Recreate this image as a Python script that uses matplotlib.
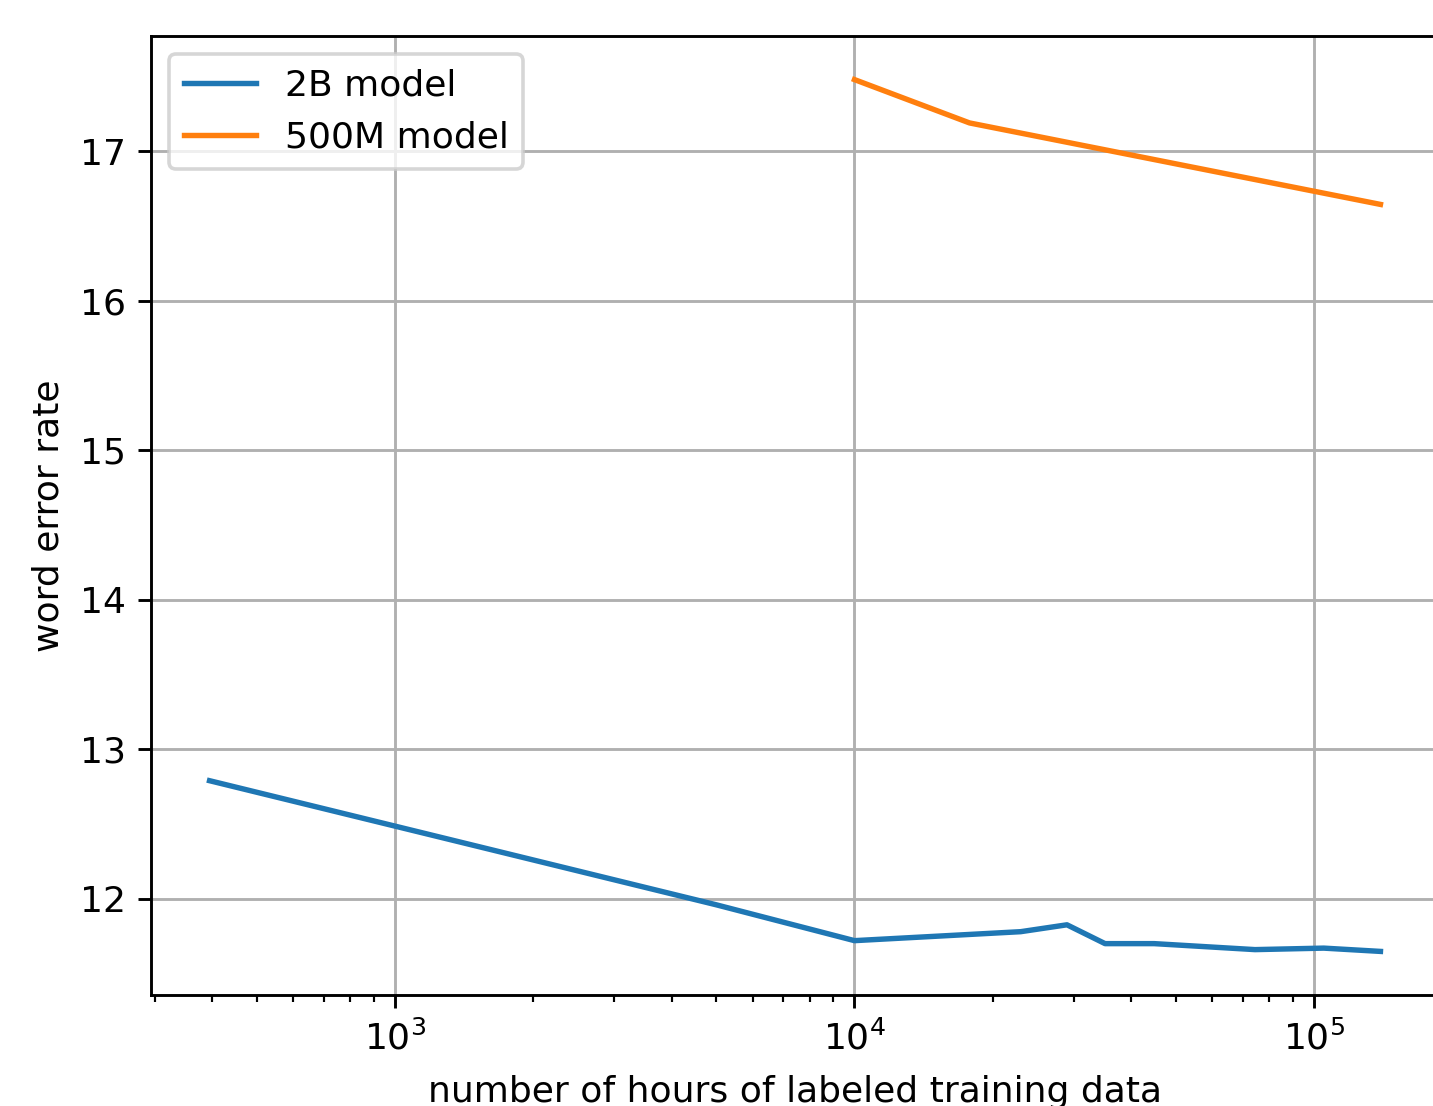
import matplotlib
matplotlib.use("Agg")
import matplotlib.pyplot as plt

hours_2b = [395, 5000, 10000, 23000, 29000, 35100, 44900, 74400, 105000, 139500]
wer_2b = [12.79, 11.96, 11.72, 11.78, 11.826, 11.70, 11.70, 11.66, 11.67, 11.648]

hours_500m = [10000, 17800, 139500]
wer_500m = [17.48, 17.19, 16.645]

DPI = 260
W, H = 1433, 1106
fig = plt.figure(figsize=(W / DPI, H / DPI), dpi=DPI)
ax = fig.add_axes([151 / W, (H - 995) / H, 1288 / W, 959 / H])

ax.plot(hours_2b, wer_2b, label="2B model")
ax.plot(hours_500m, wer_500m, label="500M model")
ax.set_xscale("log")
ax.grid(True)
ax.set_xlabel("number of hours of labeled training data", labelpad=5)
ax.set_ylabel("word error rate")
ax.legend(loc="upper left")

fig.savefig("out.png", dpi=DPI)
